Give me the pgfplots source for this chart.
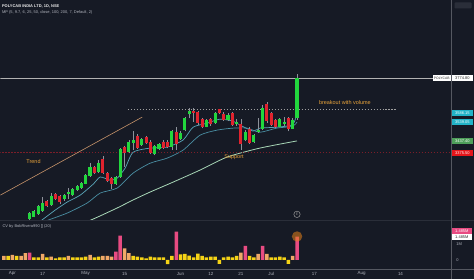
\documentclass[border=0pt]{standalone}
\usepackage{pgfplots}
\pgfplotsset{compat=1.18}
\usepackage{pgfplotstable}
\usepgfplotslibrary{fillbetween}
\usepackage{fontspec}
\setmainfont{Liberation Sans}
\newcommand\fs[1]{\fontsize{#1}{#1}\selectfont}
\definecolor{bg}{HTML}{161A25}
\definecolor{grid}{HTML}{2A2E39}
\definecolor{tick}{HTML}{B2B5BE}
\definecolor{upg}{HTML}{22D63D}
\definecolor{dnr}{HTML}{E0232E}
\definecolor{wick}{HTML}{8E929B}
\definecolor{bandfill}{HTML}{1C3D4C}
\definecolor{bandU}{HTML}{5AA5B8}
\definecolor{bandL}{HTML}{4A8FA3}
\definecolor{ma}{HTML}{A9D8B8}
\definecolor{trend}{HTML}{C9956B}
\definecolor{note}{HTML}{E8A33A}
\definecolor{volY}{HTML}{F5D316}
\definecolor{volS}{HTML}{F0A868}
\definecolor{volP}{HTML}{E84B82}
\definecolor{cyanlab}{HTML}{22B3C7}
\definecolor{greenlab}{HTML}{4E9F5A}
\definecolor{redlab}{HTML}{E5161B}

% up candles: index open high low close
\pgfplotstableread{
i o h l c
0 3022 3058 3015 3050
1 3033 3068 3028 3060
2 3045 3092 3040 3085
3 3065 3135 3058 3103
5 3094 3158 3088 3142
8 3125 3155 3118 3147
9 3155 3185 3125 3160
10 3148 3185 3140 3178
11 3175 3200 3168 3195
12 3188 3218 3182 3210
13 3210 3262 3205 3254
14 3250 3318 3245 3295
16 3272 3335 3265 3317
20 3210 3250 3200 3242
21 3245 3398 3238 3392
23 3380 3442 3370 3432
24 3428 3490 3388 3442
26 3415 3452 3408 3445
29 3367 3415 3360 3409
30 3397 3425 3390 3418
33 3409 3495 3388 3488
35 3451 3490 3445 3481
36 3495 3565 3488 3558
37 3581 3614 3558 3598
41 3516 3556 3510 3549
43 3534 3595 3528 3588
46 3550 3585 3543 3575
48 3530 3555 3520 3535
50 3442 3495 3435 3486
52 3432 3475 3425 3468
53 3488 3560 3480 3495
54 3504 3632 3498 3611
58 3516 3560 3510 3552
59 3530 3565 3515 3538
61 3505 3558 3500 3549
62 3560 3798 3550 3774.8
}\upc
% down candles
\pgfplotstableread{
i o h l c
4 3112 3120 3082 3090
6 3150 3160 3122 3130
7 3140 3148 3100 3112
15 3295 3305 3260 3268
17 3338 3356 3258 3265
18 3263 3270 3215 3225
19 3237 3245 3180 3210
22 3402 3410 3298 3375
25 3463 3472 3395 3403
27 3456 3462 3420 3428
28 3432 3440 3365 3374
31 3432 3440 3395 3403
32 3430 3445 3398 3405
34 3486 3513 3388 3424
38 3598 3614 3540 3590
39 3593 3600 3525 3535
40 3552 3560 3505 3513
42 3552 3560 3520 3527
44 3606 3610 3580 3590
45 3581 3590 3545 3553
47 3584 3592 3515 3522
49 3525 3555 3388 3425
51 3500 3510 3420 3427
55 3636 3645 3535 3543
56 3584 3595 3515 3522
57 3549 3555 3505 3513
60 3558 3565 3488 3505
}\dnc
% volume (thousands)
\pgfplotstableread{
i v
-5 255
-3 255
1 170
2 170
4 170
6 106
7 170
8 170
10 170
11 170
12 170
13 212
15 170
16 212
24 255
25 212
26 170
27 106
28 212
29 170
30 170
31 170
32 -275
33 255
35 350
36 382
37 280
38 170
39 400
40 255
41 170
42 212
43 212
44 -255
45 170
46 212
47 170
48 255
51 255
52 170
56 170
57 170
58 212
59 170
60 -255
}\volYt
\pgfplotstableread{
i v
-6 255
-4 318
-2 255
-1 427
3 382
5 212
9 255
14 318
17 255
18 255
19 212
22 743
23 427
49 465
53 382
55 382
61 255
}\volSt
\pgfplotstableread{
i v
0 465
20 530
21 1550
34 1800
50 892
54 892
62 1485
}\volPt

\begin{document}
\begin{tikzpicture}
\fill[bg] (0bp,0bp) rectangle (474bp,279bp);
\begin{axis}[
  at={(0bp,59bp)}, anchor=south west, scale only axis,
  width=452bp, height=220bp,
  xmin=-6.78, xmax=97.85, ymin=3013.5, ymax=4190.6,
  set layers,
  axis line style={draw=none},
  xtick=\empty,
  ytick={3100,3200,3300,3400,3500,3600,3700,3800,3900,4000,4100},
  yticklabels={3100.00,3200.00,3300.00,3400.00,3500.00,3600.00,3700.00,3800.00,3900.00,4000.00,4100.00},
  yticklabel pos=right,
  yticklabel style={anchor=west, xshift=1.2bp, font=\fs{4}, text=tick},
  major tick length=0pt,
  clip=true,
]
% moving-average band
\addplot[name path=U, draw=bandU, line width=0.7bp, smooth, tension=0.4] coordinates {
(-2,2930) (3.17,3019) (5.95,3067) (8.73,3110) (11.74,3147) (14.75,3206) (16.37,3244)
(18.68,3227) (20.3,3238) (22.15,3292) (24.0,3377) (27.94,3399) (31.87,3404) (35.58,3442)
(37.9,3511) (41.1,3532) (44.1,3554) (47.2,3543) (48.8,3522) (51.8,3490) (53.4,3506)
(57.3,3511) (61,3525) (62,3586)};
\addplot[name path=L, draw=bandL, line width=0.7bp, smooth, tension=0.4] coordinates {
(-2,2950) (3.17,3003) (8.73,3051) (13.36,3105) (16.37,3158) (20.3,3185) (24.0,3265)
(27.94,3318) (31.87,3345) (35.58,3388) (39.5,3468) (43.4,3495) (47.2,3506) (50.4,3506)
(53.4,3484) (57.3,3506) (61,3516) (62,3539)};
\addplot[fill=bandfill, fill opacity=0.95] fill between[of=U and L];
% slower moving average
\addplot[draw=ma, line width=0.8bp, smooth, tension=0.4] coordinates {
(10,2975) (14.77,3019) (20.3,3078) (24.0,3121) (27.9,3163) (33.3,3217) (39.5,3281)
(45.8,3351) (53.4,3399) (62,3437.4)};
% horizontal levels
\addplot[draw=gray!60, line width=0.45bp] coordinates {(-7,3774.8) (98,3774.8)};
\addplot[draw=dnr!50!bg, line width=0.5bp, dash pattern=on 1.2bp off 1.8bp] coordinates {(-7,3375.5) (98,3375.5)};
\addplot[draw=gray!75, line width=0.5bp, dash pattern=on 1.2bp off 1.8bp] coordinates {(22.8,3608) (85.1,3608)};
% trend line
\addplot[draw=trend, line width=0.6bp] coordinates {(-6.78,3147) (26.1,3565)};
% wicks: from low up to high
\addplot[draw=wick, line width=0.6bp, mark=none, quiver={u=0, v=\thisrow{h}-\thisrow{l}}]
  table[x=i, y=l] {\upc};
\addplot[draw=wick, line width=0.6bp, mark=none, quiver={u=0, v=\thisrow{h}-\thisrow{l}}]
  table[x=i, y=l] {\dnc};
% bodies: from open to close
\addplot[draw=upg, line width=3.1bp, mark=none, quiver={u=0, v=\thisrow{c}-\thisrow{o}+3}]
  table[x=i, y expr=\thisrow{o}-1.5] {\upc};
\addplot[draw=dnr, line width=3.1bp, mark=none, quiver={u=0, v=\thisrow{c}-\thisrow{o}-3}]
  table[x=i, y expr=\thisrow{o}+1.5] {\dnc};
% annotations
\node[text=note, font=\fs{5.5}] at (axis cs:0.9,3329) {Trend};
\node[text=note, font=\fs{5.5}] at (axis cs:47.4,3352) {Support};
\node[text=note, font=\fs{5.5}] at (axis cs:73.1,3643) {breakout with volume};
\draw[gray!80, line width=0.5bp, fill=bg] (axis cs:62,3044) circle (3.2bp);
\node[text=gray!90, font=\fs{3.5}] at (axis cs:62,3044) {E};
\end{axis}

\begin{axis}[
  at={(0bp,11bp)}, anchor=south west, scale only axis,
  width=452bp, height=48bp,
  xmin=-6.78, xmax=97.85, ymin=-510, ymax=2548,
  axis line style={draw=none},
  xtick={-4,3,13,22,35,42,49,56,66,77,86},
  xticklabels={Apr,17,May,15,Jun,12,21,Jul,17,Aug,14},
  xticklabel style={anchor=center, yshift=-6bp, font=\fs{4.5}, text=tick},
  ytick={0,1000}, yticklabels={0,1M},
  yticklabel pos=right,
  yticklabel style={anchor=west, xshift=1.2bp, font=\fs{4}, text=tick},
  major tick length=0pt,
  ybar, bar width=3.5bp,
  clip=true,
]
\addplot[fill=volY, draw=none, bar shift=0pt] table[x=i, y=v] {\volYt};
\addplot[fill=volS, draw=none, bar shift=0pt] table[x=i, y=v] {\volSt};
\addplot[fill=volP, draw=none, bar shift=0pt] table[x=i, y=v] {\volPt};
\end{axis}

\begin{scope}[shift={(0bp,279bp)}, x=1bp, y=-1bp]
% pane borders
\draw[grid, line width=0.8bp] (0,220) -- (474,220);
\draw[grid!80!white, line width=0.8bp] (0,269) -- (474,269);
\draw[grid!80!white, line width=0.8bp] (452,0) -- (452,279);
% header
\node[anchor=west, text=white!85!gray, font=\bfseries\fs{4}, inner sep=0] at (1.5,5.8) {POLYCAB INDIA LTD, 1D, NSE};
\node[anchor=west, text=tick, font=\fs{4}, inner sep=0] at (1.5,11.8) {MP (5, 9.7, 6, 25, 50, close, 100, 200, 7, Default, 2)};
\node[anchor=west, text=tick, font=\fs{4}, inner sep=0] at (2,226) {CV by BobRivera990 [] (20)};
% top right button
\fill[grid, rounded corners=0.8bp] (455,2) rectangle (472,8);
% price labels
\fill[white] (433,75) rectangle (451.3,81);
\node[text=black!80, font=\fs{3.4}, inner sep=0] at (442.2,78) {POLYCAB};
\fill[white] (452.6,75) rectangle (473,81);
\node[text=black!85, font=\fs{4}, inner sep=0] at (462.8,78) {3774.80};
\fill[cyanlab] (452.6,110) rectangle (473,116);
\node[text=white, font=\fs{4}, inner sep=0] at (462.8,113) {3586.15};
\fill[cyanlab] (452.6,119) rectangle (473,125);
\node[text=white, font=\fs{4}, inner sep=0] at (462.8,122) {3539.05};
\fill[greenlab] (452.6,138) rectangle (473,144);
\node[text=white, font=\fs{4}, inner sep=0] at (462.8,141) {3437.40};
\fill[redlab] (452.6,150) rectangle (473,156);
\node[text=white, font=\fs{4}, inner sep=0] at (462.8,153) {3375.50};
% volume labels
\fill[volP] (452.6,228) rectangle (472,234);
\node[text=white, font=\fs{4}, inner sep=0] at (462.3,231) {1.485M};
\fill[white] (452.6,234.5) rectangle (472,240);
\node[text=black!85, font=\fs{4}, inner sep=0] at (462.3,237.3) {1.485M};
% highlight on last volume bar
\fill[orange!60!brown, opacity=0.55] (297.2,236.5) circle (5.2);
\end{scope}
\end{tikzpicture}
\end{document}
